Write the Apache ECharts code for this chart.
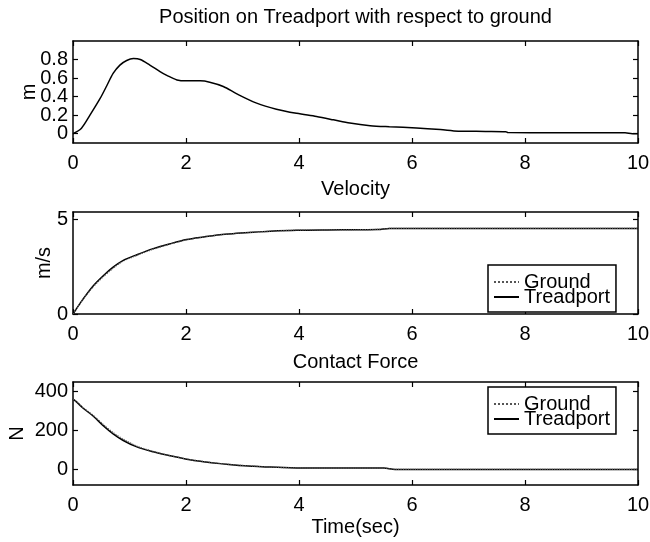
<!DOCTYPE html>
<html>
<head>
<meta charset="utf-8">
<script src="https://cdn.jsdelivr.net/npm/echarts@6/dist/echarts.min.js"></script>
<style>html,body{margin:0;padding:0;background:#fff;}#c{width:650px;height:542px;}</style>
</head>
<body>
<div id="c"></div>
<script>
// ---- Data ----
var xTicks = [0, 2, 4, 6, 8, 10];

var tPos = [0, 0.15, 0.3, 0.48, 0.6, 0.71, 0.83, 0.95, 1.07, 1.19, 1.36, 1.54, 1.66, 1.84, 2.01, 2.25, 2.42, 2.66, 2.9, 3.25, 3.6, 3.96, 4.31, 4.61, 4.9, 5.26, 5.6, 6.08, 6.5, 6.82, 7.3, 7.66, 7.7, 8.5, 9.2, 9.77, 9.9, 10];
var posTreadport = [0.0, 0.06, 0.2, 0.38, 0.52, 0.65, 0.74, 0.79, 0.81, 0.8, 0.74, 0.67, 0.63, 0.58, 0.57, 0.57, 0.556, 0.51, 0.43, 0.33, 0.265, 0.22, 0.185, 0.15, 0.115, 0.087, 0.075, 0.062, 0.045, 0.028, 0.025, 0.022, 0.012, 0.01, 0.01, 0.01, 0.0, 0.0];
var posTicks = [0, 0.2, 0.4, 0.6, 0.8];

var tVel = [0, 0.18, 0.36, 0.54, 0.71, 0.89, 1.13, 1.42, 1.72, 2.01, 2.31, 2.6, 2.9, 3.19, 3.49, 3.96, 4.5, 5.0, 5.4, 5.6, 6, 7, 8, 9, 10];
var velTreadport = [0, 0.8, 1.5, 2.04, 2.48, 2.84, 3.14, 3.46, 3.72, 3.94, 4.08, 4.2, 4.27, 4.33, 4.38, 4.43, 4.45, 4.46, 4.47, 4.53, 4.53, 4.53, 4.53, 4.53, 4.53];
var velGround = [0, 0.78, 1.45, 1.98, 2.42, 2.8, 3.1, 3.43, 3.7, 3.92, 4.07, 4.19, 4.27, 4.33, 4.38, 4.44, 4.45, 4.46, 4.48, 4.53, 4.53, 4.53, 4.53, 4.53, 4.53];
var velTicks = [0, 5];

var tForce = [0, 0.06, 0.18, 0.36, 0.54, 0.71, 0.89, 1.13, 1.42, 1.72, 2.01, 2.31, 2.6, 2.9, 3.19, 3.49, 3.96, 4.5, 5.0, 5.5, 5.7, 6, 7, 8, 9, 10];
var forceTreadport = [362, 348, 315, 274, 224, 183, 149, 116, 91, 70, 53, 40, 30, 22, 17, 12, 8, 7, 7, 7, 0, 0, 0, 0, 0, 0];
var forceGround = [362, 350, 318, 278, 230, 190, 156, 120, 93, 71, 54, 41, 31, 23, 17, 12, 8, 7, 7, 7, 0, 0, 0, 0, 0, 0];
var forceTicks = [0, 200, 400];

var titles = ['Position on Treadport with respect to ground', 'Velocity', 'Contact Force'];
var xName = 'Time(sec)';
var yNames = ['m', 'm/s', 'N'];
var legendNames = ['Ground', 'Treadport'];

// ---- Build ----
var FONT = 'Liberation Sans';
var FS = 20;
function pairs(t, v) { return t.map(function (x, i) { return [x, v[i]]; }); }

var grids = [
  { left: 73, right: 12, top: 41, height: 102, outerBoundsMode: 'none' },
  { left: 73, right: 12, top: 212, height: 102, outerBoundsMode: 'none' },
  { left: 73, right: 12, top: 382, height: 103, outerBoundsMode: 'none' }
];
var yRanges = [[-0.1, 1.0], [0, 5.4], [-80, 450]];
var yTicks = [posTicks, velTicks, forceTicks];
var yGaps = [34, 19, 46];

var xAxes = [], yAxes = [], mainY = [], mainX = [];
var axisLine = { show: true, onZero: false, lineStyle: { color: '#000', width: 1.5 } };
var tickStyle = { color: '#000', width: 1.2 };
function yLabel(vals) {
  return { show: true, color: '#000', fontSize: FS, fontFamily: FONT, margin: 5,
    showMinLabel: true, showMaxLabel: true, customValues: vals };
}
for (var g = 0; g < 3; g++) {
  mainX.push(xAxes.length);
  xAxes.push({
    type: 'value', gridIndex: g, min: 0, max: 10, interval: 2, position: 'bottom',
    axisLine: axisLine, splitLine: { show: false },
    axisTick: { inside: true, length: 5, lineStyle: tickStyle },
    axisLabel: { show: true, color: '#000', fontSize: FS, fontFamily: FONT, margin: 10, customValues: xTicks },
    name: g === 2 ? xName : '', nameLocation: 'middle', nameGap: 32, nameMoveOverlap: false,
    nameTextStyle: { color: '#000', fontSize: FS, fontFamily: FONT }
  });
  xAxes.push({
    type: 'value', gridIndex: g, min: 0, max: 10, interval: 2, position: 'top',
    axisLine: axisLine, splitLine: { show: false },
    axisTick: { inside: true, length: 5, lineStyle: tickStyle },
    axisLabel: { show: false }
  });
  // tick labels are split across two co-located left axes so that none is hidden as overlapping
  var ticks = yTicks[g];
  var labelsA = g === 0 ? ticks.filter(function (v, i) { return i % 2 === 0; }) : ticks;
  var labelsB = g === 0 ? ticks.filter(function (v, i) { return i % 2 === 1; }) : null;
  mainY.push(yAxes.length);
  yAxes.push({
    type: 'value', gridIndex: g, min: yRanges[g][0], max: yRanges[g][1], position: 'left', offset: 0,
    axisLine: axisLine, splitLine: { show: false },
    axisTick: { inside: true, length: 5, customValues: ticks, lineStyle: tickStyle },
    axisLabel: yLabel(labelsA),
    name: yNames[g], nameLocation: 'middle', nameRotate: 90, nameGap: yGaps[g], nameMoveOverlap: false,
    nameTextStyle: { color: '#000', fontSize: FS, fontFamily: FONT }
  });
  if (labelsB) {
    yAxes.push({
      type: 'value', gridIndex: g, min: yRanges[g][0], max: yRanges[g][1], position: 'left', offset: 0,
      axisLine: { show: false, onZero: false }, splitLine: { show: false }, axisTick: { show: false },
      axisLabel: yLabel(labelsB)
    });
  }
  yAxes.push({
    type: 'value', gridIndex: g, min: yRanges[g][0], max: yRanges[g][1], position: 'right', offset: 0,
    axisLine: axisLine, splitLine: { show: false },
    axisTick: { inside: true, length: 5, customValues: ticks, lineStyle: tickStyle },
    axisLabel: { show: false }
  });
}

function lineSeries(name, g, data, dotted) {
  var col = dotted ? '#555' : '#000';
  return {
    type: 'line', name: name, xAxisIndex: mainX[g], yAxisIndex: mainY[g], data: data,
    showSymbol: false, symbol: 'none', smooth: 0.3, animation: false,
    itemStyle: { color: col },
    lineStyle: dotted ? { color: col, width: 1.2, type: 'dotted' } : { color: col, width: 1.5 },
    z: dotted ? 3 : 2
  };
}

var series = [
  lineSeries('Treadport', 0, pairs(tPos, posTreadport), false),
  lineSeries('Treadport', 1, pairs(tVel, velTreadport), false),
  lineSeries('Ground', 1, pairs(tVel, velGround), true),
  lineSeries('Treadport', 2, pairs(tForce, forceTreadport), false),
  lineSeries('Ground', 2, pairs(tForce, forceGround), true)
];

function legendAt(top) {
  return {
    data: legendNames, orient: 'vertical', left: 488, top: top,
    itemWidth: 25, itemHeight: 10, itemGap: -5,
    padding: [7, 6, 5, 5], borderColor: '#000', borderWidth: 1.5, backgroundColor: '#fff',
    selectedMode: false,
    itemStyle: { opacity: 0 },
    textStyle: { color: '#000', fontSize: FS, fontFamily: FONT, lineHeight: 16 }
  };
}

var titleTops = [7, 179, 352];
var titleOpts = titles.map(function (t, i) {
  return {
    text: t, left: 355.5, top: titleTops[i], textAlign: 'center', padding: 0,
    textStyle: { color: '#000', fontSize: FS, fontWeight: 'normal', fontFamily: FONT }
  };
});

var chart = echarts.init(document.getElementById('c'), null, { renderer: 'canvas' });
chart.setOption({
  animation: false,
  backgroundColor: '#fff',
  title: titleOpts,
  grid: grids,
  xAxis: xAxes,
  yAxis: yAxes,
  legend: [legendAt(265), legendAt(387)],
  series: series
});
</script>
</body>
</html>
